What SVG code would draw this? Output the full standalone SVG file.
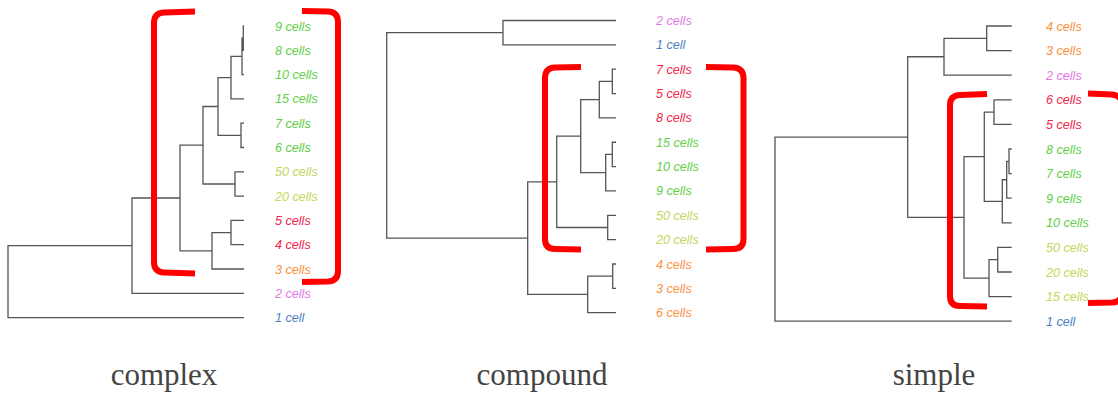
<svg xmlns="http://www.w3.org/2000/svg" width="1118" height="394" viewBox="0 0 1118 394">
<style>
.br{fill:none;stroke:#555;stroke-width:1.3}
.bk{fill:none;stroke:#ff0000;stroke-width:6;stroke-linejoin:round}
.lb{font-family:"Liberation Sans",Arial,sans-serif;font-style:italic;font-size:12.6px}
.cap{font-family:"Liberation Serif","Times New Roman",serif;font-size:31px;fill:#444;text-anchor:middle}
.g{fill:#62cf48}.y{fill:#c4d65c}.r{fill:#f2264b}.o{fill:#f7923f}.p{fill:#e278e6}.b{fill:#4f7fc2}
</style>
<rect width="1118" height="394" fill="#fff"/>
<g id="connectors">
<!-- complex -->
<path class="br" d="M244,26 H243.3 V50.3 H244 M243.3,38.2 H242 V74.6 H244 M242,56.4 H231 V98.9 H244 M244,123.2 H241 V147.5 H244 M231,77.7 H218 V135.35 H241 M244,171.8 H235 V196.1 H244 M218,106.5 H203 V184 H235 M244,220.4 H231 V244.7 H244 M231,232.55 H212 V269 H244 M203,145.2 H180 V250.8 H212 M180,198 H132 V293.3 H244 M132,245.7 H8 V317.6 H244"/>
<!-- compound -->
<path class="br" d="M616,20.5 H503 V44.85 H616 M616,69.2 H612.3 V93.55 H616 M612.3,81.4 H599.3 V117.9 H616 M616,142.25 H612.3 V166.6 H616 M612.3,154.4 H605.7 V190.95 H616 M599.3,99.65 H580.7 V172.7 H605.7 M616,215.3 H607.7 V239.65 H616 M580.7,136.2 H556.7 V227.5 H607.7 M616,264 H612.7 V288.35 H616 M612.7,276.2 H587.7 V312.7 H616 M556.7,181.85 H527.7 V294.45 H587.7 M503,32.7 H386.7 V238.15 H527.7"/>
<!-- simple -->
<path class="br" d="M1011.7,26 H986.7 V50.6 H1011.7 M986.7,38.3 H944 V75.2 H1011.7 M1011.7,99.8 H994 V124.4 H1011.7 M1011.7,149 H1009 V173.6 H1011.7 M1009,161.3 H1006.7 V198.2 H1011.7 M1006.7,179.75 H1002.3 V222.8 H1011.7 M994,112.1 H984.3 V201.3 H1002.3 M1011.7,247.4 H997.7 V272 H1011.7 M997.7,259.7 H989 V296.6 H1011.7 M984.3,156.7 H964 V278.15 H989 M944,56.75 H907.7 V217.4 H964 M907.7,137.1 H775 V321.2 H1011.7"/>
</g>
<g id="complex-labels" class="lb">
<g id="c-9"><text class="g" x="275" y="30.5">9 cells</text></g>
<g id="c-8"><text class="g" x="275" y="54.8">8 cells</text></g>
<g id="c-10"><text class="g" x="275" y="79.1">10 cells</text></g>
<g id="c-15"><text class="g" x="275" y="103.4">15 cells</text></g>
<g id="c-7"><text class="g" x="275" y="127.7">7 cells</text></g>
<g id="c-6"><text class="g" x="275" y="152">6 cells</text></g>
<g id="c-50"><text class="y" x="275" y="176.3">50 cells</text></g>
<g id="c-20"><text class="y" x="275" y="200.6">20 cells</text></g>
<g id="c-5"><text class="r" x="275" y="224.9">5 cells</text></g>
<g id="c-4"><text class="r" x="275" y="249.2">4 cells</text></g>
<g id="c-3"><text class="o" x="275" y="273.5">3 cells</text></g>
<g id="c-2"><text class="p" x="275" y="297.8">2 cells</text></g>
<g id="c-1"><text class="b" x="275" y="322.1">1 cell</text></g>
</g>
<g id="compound-labels" class="lb">
<g id="m-2"><text class="p" x="656" y="25">2 cells</text></g>
<g id="m-1"><text class="b" x="656" y="49.35">1 cell</text></g>
<g id="m-7"><text class="r" x="656" y="73.7">7 cells</text></g>
<g id="m-5"><text class="r" x="656" y="98.05">5 cells</text></g>
<g id="m-8"><text class="r" x="656" y="122.4">8 cells</text></g>
<g id="m-15"><text class="g" x="656" y="146.75">15 cells</text></g>
<g id="m-10"><text class="g" x="656" y="171.1">10 cells</text></g>
<g id="m-9"><text class="g" x="656" y="195.45">9 cells</text></g>
<g id="m-50"><text class="y" x="656" y="219.8">50 cells</text></g>
<g id="m-20"><text class="y" x="656" y="244.15">20 cells</text></g>
<g id="m-4"><text class="o" x="656" y="268.5">4 cells</text></g>
<g id="m-3"><text class="o" x="656" y="292.85">3 cells</text></g>
<g id="m-6"><text class="o" x="656" y="317.2">6 cells</text></g>
</g>
<g id="simple-labels" class="lb">
<g id="s-4"><text class="o" x="1046" y="30.5">4 cells</text></g>
<g id="s-3"><text class="o" x="1046" y="55.1">3 cells</text></g>
<g id="s-2"><text class="p" x="1046" y="79.7">2 cells</text></g>
<g id="s-6"><text class="r" x="1046" y="104.3">6 cells</text></g>
<g id="s-5"><text class="r" x="1046" y="128.9">5 cells</text></g>
<g id="s-8"><text class="g" x="1046" y="153.5">8 cells</text></g>
<g id="s-7"><text class="g" x="1046" y="178.1">7 cells</text></g>
<g id="s-9"><text class="g" x="1046" y="202.7">9 cells</text></g>
<g id="s-10"><text class="g" x="1046" y="227.3">10 cells</text></g>
<g id="s-50"><text class="y" x="1046" y="251.9">50 cells</text></g>
<g id="s-20"><text class="y" x="1046" y="276.5">20 cells</text></g>
<g id="s-15"><text class="y" x="1046" y="301.1">15 cells</text></g>
<g id="s-1"><text class="b" x="1046" y="325.7">1 cell</text></g>
</g>
<g id="brackets">
<path class="bk" d="M195,11.5 L164,12.5 Q154,13 154,23 L154,262 Q154,272 164,272.5 L195,273.5"/>
<path class="bk" d="M302,11 L328,11.5 Q338,12 338,22 L338,271 Q338,281 328,281.5 L302,282"/>
<path class="bk" d="M581,67 L555,67.5 Q545,68 545,78 L545,239 Q545,249 555,249 L581,249.5"/>
<path class="bk" d="M706,67 L733,67.5 Q743.5,68 743.5,78 L743.5,239 Q743.5,249 733,249 L706,249.5"/>
<path class="bk" d="M987,94 L960,95 Q950,95.5 950,105 L950,296 Q950,306 960,306 L987,306.5"/>
<path class="bk" d="M1088,93.5 L1112,94.5 Q1122,95.5 1122,105 L1122,293 Q1122,302 1112,302.5 L1088,303"/>
</g>
<g id="captions">
<text class="cap" x="164" y="385">complex</text>
<text class="cap" x="542" y="385">compound</text>
<text class="cap" x="934" y="385">simple</text>
</g>
</svg>
